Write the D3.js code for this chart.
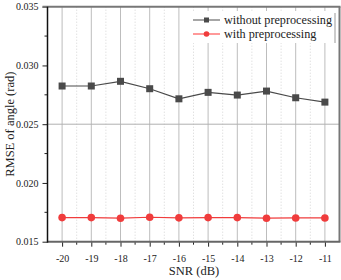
<!DOCTYPE html>
<html>
<head>
<meta charset="utf-8">
<script src="https://cdn.jsdelivr.net/npm/d3@7"></script>
<style>
  body { margin: 0; background: #fff; }
  svg { display: block; font-family: "Liberation Serif", "Times New Roman", serif; }
</style>
</head>
<body>
<svg id="chart" width="341" height="280"></svg>
<script>
// data
var snr = [-20, -19, -18, -17, -16, -15, -14, -13, -12, -11];
var withoutPre = [0.02825, 0.02825, 0.02865, 0.02802, 0.02716, 0.02771, 0.02748, 0.02782, 0.02725, 0.02688];
var withPre = [0.01705, 0.01705, 0.01700, 0.01708, 0.01703, 0.01705, 0.01705, 0.01700, 0.01702, 0.01702];
var yTicks = [0.015, 0.020, 0.025, 0.030, 0.035];
var seriesNames = ['without preprocessing', 'with preprocessing'];

(function () {
  var svg = d3.select('#chart');

  var plotLeft = 47.5, plotRight = 339.5, plotTop = 6.7, plotBottom = 241.7;

  var x = d3.scaleLinear().domain([-20.5, -10.5]).range([plotLeft, plotRight]);
  var y = d3.scaleLinear().domain([0.015, 0.035]).range([plotBottom, plotTop]);

  var minorX = d3.range(-19.5, -10.5, 1);

  /**
   * Grid
   */
  var grid = svg.append('g').attr('class', 'grid');

  // minor vertical dotted lines
  grid.selectAll('line.minor')
    .data(minorX)
    .enter().append('line')
    .attr('class', 'minor')
    .attr('x1', function (d) { return x(d); })
    .attr('x2', function (d) { return x(d); })
    .attr('y1', plotTop).attr('y2', plotBottom)
    .attr('stroke', '#d4d4d4')
    .attr('stroke-width', 1)
    .attr('stroke-dasharray', '1,2');

  // major vertical lines
  grid.selectAll('line.major')
    .data(snr)
    .enter().append('line')
    .attr('class', 'major')
    .attr('x1', function (d) { return x(d); })
    .attr('x2', function (d) { return x(d); })
    .attr('y1', plotTop).attr('y2', plotBottom)
    .attr('stroke', '#bdbdbd')
    .attr('stroke-width', 1);

  // horizontal line at 0.025
  grid.append('line')
    .attr('x1', plotLeft).attr('x2', plotRight)
    .attr('y1', y(0.025)).attr('y2', y(0.025))
    .attr('stroke', '#b0b0b0')
    .attr('stroke-width', 1);

  /**
   * Axes
   */
  var xAxis = svg.append('g')
    .attr('transform', 'translate(0,' + plotBottom + ')')
    .call(d3.axisBottom(x).tickValues(snr).tickSize(5).tickSizeOuter(0)
      .tickFormat(function (d) { return String(d); }));
  xAxis.select('.domain').remove();
  xAxis.selectAll('line').attr('stroke', '#222');
  xAxis.selectAll('text')
    .attr('font-size', 10)
    .attr('fill', '#222')
    .attr('dy', '1.2em')
    .attr('font-family', '"Liberation Serif", serif');

  // minor x ticks
  svg.append('g').selectAll('line')
    .data(minorX)
    .enter().append('line')
    .attr('x1', function (d) { return x(d); })
    .attr('x2', function (d) { return x(d); })
    .attr('y1', plotBottom).attr('y2', plotBottom + 3)
    .attr('stroke', '#222');

  var yAxis = svg.append('g')
    .attr('transform', 'translate(' + plotLeft + ',0)')
    .call(d3.axisLeft(y).tickValues(yTicks).tickSize(5).tickSizeOuter(0).tickFormat(d3.format('.3f')));
  yAxis.select('.domain').remove();
  yAxis.selectAll('line').attr('stroke', '#222');
  yAxis.selectAll('text')
    .attr('font-size', 10)
    .attr('fill', '#222')
    .attr('dx', '-0.1em')
    .attr('font-family', '"Liberation Serif", serif');

  // minor y ticks
  svg.append('g').selectAll('line')
    .data([0.0175, 0.0225, 0.0275, 0.0325])
    .enter().append('line')
    .attr('x1', plotLeft - 3).attr('x2', plotLeft)
    .attr('y1', function (d) { return y(d); })
    .attr('y2', function (d) { return y(d); })
    .attr('stroke', '#222');

  // frame
  svg.append('line')
    .attr('x1', plotLeft - 5).attr('x2', plotRight + 1)
    .attr('y1', plotTop).attr('y2', plotTop)
    .attr('stroke', '#777').attr('stroke-width', 2);
  svg.append('line')
    .attr('x1', plotRight).attr('x2', plotRight)
    .attr('y1', plotTop).attr('y2', plotBottom)
    .attr('stroke', '#777').attr('stroke-width', 2);
  svg.append('line')
    .attr('x1', plotLeft).attr('x2', plotRight + 1)
    .attr('y1', plotBottom).attr('y2', plotBottom)
    .attr('stroke', '#666').attr('stroke-width', 2);
  svg.append('line')
    .attr('x1', plotLeft).attr('x2', plotLeft)
    .attr('y1', plotTop).attr('y2', plotBottom + 1)
    .attr('stroke', '#111').attr('stroke-width', 1.5);

  // axis titles
  svg.append('text')
    .attr('x', 194).attr('y', 275)
    .attr('text-anchor', 'middle')
    .attr('font-size', 12.5)
    .attr('fill', '#222')
    .text('SNR (dB)');

  svg.append('text')
    .attr('transform', 'translate(14,' + ((plotTop + plotBottom) / 2) + ') rotate(-90)')
    .attr('text-anchor', 'middle')
    .attr('font-size', 12.5)
    .attr('fill', '#222')
    .text('RMSE of angle (rad)');

  /**
   * Series
   */
  var line = d3.line()
    .x(function (d) { return x(d[0]); })
    .y(function (d) { return y(d[1]); });

  var blackData = d3.zip(snr, withoutPre);
  var redData = d3.zip(snr, withPre);

  svg.append('path')
    .datum(blackData)
    .attr('d', line)
    .attr('fill', 'none')
    .attr('stroke', '#4a4a4a')
    .attr('stroke-width', 1.2);

  svg.append('g').selectAll('rect')
    .data(blackData)
    .enter().append('rect')
    .attr('x', function (d) { return x(d[0]) - 3.5; })
    .attr('y', function (d) { return y(d[1]) - 3.5; })
    .attr('width', 7).attr('height', 7)
    .attr('fill', '#4a4a4a');

  svg.append('path')
    .datum(redData)
    .attr('d', line)
    .attr('fill', 'none')
    .attr('stroke', '#f03c3c')
    .attr('stroke-width', 1.2);

  svg.append('g').selectAll('circle')
    .data(redData)
    .enter().append('circle')
    .attr('cx', function (d) { return x(d[0]); })
    .attr('cy', function (d) { return y(d[1]); })
    .attr('r', 3.8)
    .attr('fill', '#f03c3c');

  /**
   * Legend
   */
  var legend = svg.append('g').attr('class', 'legend');
  legend.append('rect')
    .attr('x', 190).attr('y', 11).attr('width', 145).attr('height', 32)
    .attr('fill', '#fff');
  legend.append('line')
    .attr('x1', 335).attr('x2', 335).attr('y1', 13).attr('y2', 43)
    .attr('stroke', '#999').attr('stroke-width', 1);

  var legendColors = ['#888', '#f77'];
  var markerColors = ['#4a4a4a', '#f03c3c'];
  seriesNames.forEach(function (name, i) {
    var ly = 20 + i * 14;
    legend.append('line')
      .attr('x1', 193).attr('x2', 220)
      .attr('y1', ly).attr('y2', ly)
      .attr('stroke', legendColors[i]).attr('stroke-width', 1.5);
    if (i === 0) {
      legend.append('rect')
        .attr('x', 204).attr('y', ly - 2.5).attr('width', 5).attr('height', 5)
        .attr('fill', markerColors[i]);
    } else {
      legend.append('circle')
        .attr('cx', 206.5).attr('cy', ly).attr('r', 2.8)
        .attr('fill', markerColors[i]);
    }
    legend.append('text')
      .attr('x', 224).attr('y', ly + 4)
      .attr('font-size', 12.2)
      .attr('fill', '#222')
      .text(name);
  });
})();
</script>
</body>
</html>
